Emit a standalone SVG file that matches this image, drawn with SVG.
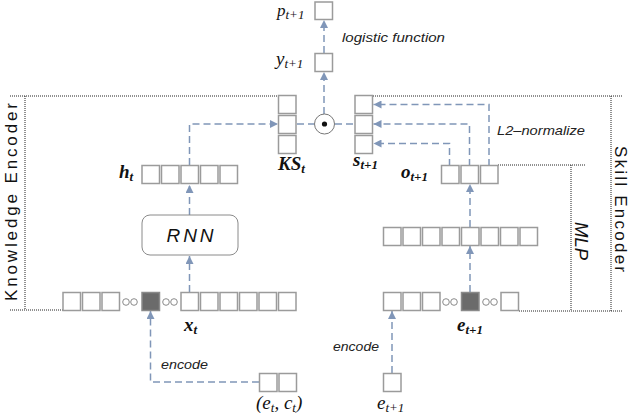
<svg xmlns="http://www.w3.org/2000/svg" width="640" height="415" viewBox="0 0 640 415">
<style>
.b{fill:#fff;stroke:#9b9b9b;stroke-width:1.5}
.f{fill:#6b6b6b;stroke:#8a8a8a;stroke-width:1.5}
.c{fill:#fff;stroke:#8a8a8a;stroke-width:1}
.dot{fill:none;stroke:#222;stroke-width:1;stroke-dasharray:1 1}
.ar{fill:none;stroke:#8096b8;stroke-width:1.5;stroke-dasharray:7 4}
.m{font-family:"Liberation Serif",serif;font-style:italic;font-size:19px;fill:#111}
.mb{font-family:"Liberation Serif",serif;font-style:italic;font-weight:bold;font-size:19px;fill:#111}
.s{font-size:13px}
.lab{font-family:"Liberation Sans",sans-serif;font-style:italic;font-size:13px;fill:#222}
.rnn{font-family:"Liberation Sans",sans-serif;font-style:italic;font-size:19px;fill:#111}
.big{font-family:"Liberation Sans",sans-serif;font-size:17px;fill:#111}
</style>
<defs>
<marker id="ah" markerUnits="userSpaceOnUse" markerWidth="10" markerHeight="8" refX="8" refY="4" orient="auto">
<path d="M0,0 L8,4 L0,8 Z" fill="#8096b8"/>
</marker>
</defs>

<g id="frames">
<line class="dot" x1="10" y1="96" x2="278" y2="96"/>
<line class="dot" x1="25" y1="96" x2="25" y2="310"/>
<line class="dot" x1="10" y1="310" x2="63" y2="310"/>
<line class="dot" x1="373" y1="96" x2="623" y2="96"/>
<line class="dot" x1="611" y1="96" x2="611" y2="311"/>
<line class="dot" x1="519" y1="311" x2="623" y2="311"/>
<line class="dot" x1="498" y1="165" x2="585" y2="165"/>
<line class="dot" x1="571" y1="165" x2="571" y2="311"/>
<text class="big" transform="translate(16.5,202) rotate(-90)" text-anchor="middle" textLength="198" lengthAdjust="spacing">Knowledge Encoder</text>
<text class="big" transform="translate(615,209) rotate(90)" text-anchor="middle" textLength="126" lengthAdjust="spacing">Skill Encoder</text>
<text class="rnn" transform="translate(575,241) rotate(90)" text-anchor="middle" textLength="38" lengthAdjust="spacingAndGlyphs">MLP</text>
</g>

<g id="connectors">
<polyline class="ar" points="324,114 324,72" marker-end="url(#ah)"/>
<polyline class="ar" points="324,53 324,20" marker-end="url(#ah)"/>
<polyline class="ar" points="189.5,165 189.5,124 278,124" marker-end="url(#ah)"/>
<line class="ar" x1="297" y1="124" x2="314" y2="124"/>
<line class="ar" x1="335" y1="124" x2="355" y2="124"/>
<polyline class="ar" points="189.5,292 189.5,256" marker-end="url(#ah)"/>
<polyline class="ar" points="189.5,215 189.5,185" marker-end="url(#ah)"/>
<polyline class="ar" points="489,166 489,104.5 373.5,104.5" marker-end="url(#ah)"/>
<polyline class="ar" points="469.5,166 469.5,124 373.5,124" marker-end="url(#ah)"/>
<polyline class="ar" points="449.5,166 449.5,143.5 373.5,143.5" marker-end="url(#ah)"/>
<polyline class="ar" points="470,292 470,246" marker-end="url(#ah)"/>
<polyline class="ar" points="470,227 470,184" marker-end="url(#ah)"/>
<polyline class="ar" points="259,382 150.5,382 150.5,311" marker-end="url(#ah)"/>
<polyline class="ar" points="392,373 392,311" marker-end="url(#ah)"/>
</g>

<g id="p">
<rect class="b" x="315" y="2" width="17.5" height="17.5"/>
<text class="m" x="277" y="15.5" style="font-size:17px">p<tspan class="s" dy="3">t+1</tspan></text>
</g>
<g id="y">
<rect class="b" x="315" y="53.5" width="17.5" height="18"/>
<text class="m" x="276" y="65">y<tspan class="s" dy="3">t+1</tspan></text>
<text class="lab" x="342" y="42" textLength="103" lengthAdjust="spacingAndGlyphs">logistic function</text>
</g>

<g id="dot">
<circle cx="324.5" cy="124" r="10" fill="#fff" stroke="#777" stroke-width="1"/>
<circle cx="324.5" cy="124" r="2.6" fill="#111"/>
</g>

<g id="KS">
<rect class="b" x="278.5" y="95.5" width="17.5" height="18"/>
<rect class="b" x="278.5" y="115.5" width="17.5" height="18"/>
<rect class="b" x="278.5" y="135.5" width="17.5" height="18"/>
<text class="mb" x="278" y="170">KS<tspan class="s" dy="3">t</tspan></text>
</g>

<g id="s">
<rect class="b" x="355" y="95.5" width="17.5" height="18"/>
<rect class="b" x="355" y="115.5" width="17.5" height="18"/>
<rect class="b" x="355" y="135.5" width="17.5" height="18"/>
<text class="mb" x="353" y="166">s<tspan class="s" dy="3">t+1</tspan></text>
</g>

<g id="h">
<rect class="b" x="142" y="165.5" width="17.5" height="18"/>
<rect class="b" x="161.5" y="165.5" width="17.5" height="18"/>
<rect class="b" x="181" y="165.5" width="17.5" height="18"/>
<rect class="b" x="200.5" y="165.5" width="17.5" height="18"/>
<rect class="b" x="220" y="165.5" width="17.5" height="18"/>
<text class="mb" x="119" y="178">h<tspan class="s" dy="3">t</tspan></text>
</g>

<g id="rnn">
<rect x="142" y="215" width="96" height="40" rx="8" fill="#fff" stroke="#8a8a8a" stroke-width="1"/>
<text class="rnn" x="190" y="242" text-anchor="middle" textLength="47" lengthAdjust="spacing">RNN</text>
</g>

<g id="x">
<rect class="b" x="63" y="292.5" width="17.5" height="18"/>
<rect class="b" x="82.5" y="292.5" width="17.5" height="18"/>
<rect class="b" x="102" y="292.5" width="17.5" height="18"/>
<circle class="c" cx="126" cy="302" r="3.3"/>
<circle class="c" cx="134" cy="302" r="3.3"/>
<rect class="f" x="142" y="292.5" width="17.5" height="18"/>
<circle class="c" cx="166" cy="302" r="3.3"/>
<circle class="c" cx="174" cy="302" r="3.3"/>
<rect class="b" x="181" y="292.5" width="17.5" height="18"/>
<rect class="b" x="200.5" y="292.5" width="17.5" height="18"/>
<rect class="b" x="220" y="292.5" width="17.5" height="18"/>
<rect class="b" x="239.5" y="292.5" width="17.5" height="18"/>
<rect class="b" x="259" y="292.5" width="17.5" height="18"/>
<rect class="b" x="278.5" y="292.5" width="17.5" height="18"/>
<text class="mb" x="184" y="331">x<tspan class="s" dy="3">t</tspan></text>
</g>

<g id="ec">
<rect class="b" x="259.5" y="373.5" width="17.5" height="18"/>
<rect class="b" x="279" y="373.5" width="17.5" height="18"/>
<text class="m" x="256" y="409">(e<tspan class="s" dy="3">t</tspan><tspan dy="-3">, c</tspan><tspan class="s" dy="3">t</tspan><tspan dy="-3">)</tspan></text>
<text class="lab" x="161" y="369" textLength="47" lengthAdjust="spacingAndGlyphs">encode</text>
</g>

<g id="o">
<rect class="b" x="441.5" y="165.5" width="17.5" height="18"/>
<rect class="b" x="461" y="165.5" width="17.5" height="18"/>
<rect class="b" x="480.5" y="165.5" width="17.5" height="18"/>
<text class="mb" x="401" y="178">o<tspan class="s" dy="3">t+1</tspan></text>
<text class="lab" x="497" y="135" textLength="88" lengthAdjust="spacingAndGlyphs">L2–normalize</text>
</g>

<g id="mlp">
<rect class="b" x="383.5" y="227.5" width="17.5" height="18"/>
<rect class="b" x="403" y="227.5" width="17.5" height="18"/>
<rect class="b" x="422.5" y="227.5" width="17.5" height="18"/>
<rect class="b" x="442" y="227.5" width="17.5" height="18"/>
<rect class="b" x="461.5" y="227.5" width="17.5" height="18"/>
<rect class="b" x="481" y="227.5" width="17.5" height="18"/>
<rect class="b" x="500.5" y="227.5" width="17.5" height="18"/>
<rect class="b" x="520" y="227.5" width="17.5" height="18"/>
</g>

<g id="e">
<rect class="b" x="383.5" y="292.5" width="17.5" height="18"/>
<rect class="b" x="403" y="292.5" width="17.5" height="18"/>
<rect class="b" x="422.5" y="292.5" width="17.5" height="18"/>
<circle class="c" cx="446" cy="302" r="3.3"/>
<circle class="c" cx="454" cy="302" r="3.3"/>
<rect class="f" x="461.5" y="292.5" width="17.5" height="18"/>
<circle class="c" cx="486" cy="302" r="3.3"/>
<circle class="c" cx="494" cy="302" r="3.3"/>
<rect class="b" x="501" y="292.5" width="17.5" height="18"/>
<text class="mb" x="457" y="331">e<tspan class="s" dy="3">t+1</tspan></text>
</g>

<g id="enext">
<rect class="b" x="383.5" y="373.5" width="17.5" height="18"/>
<text class="m" x="377" y="409">e<tspan class="s" dy="3">t+1</tspan></text>
<text class="lab" x="333" y="351" textLength="46" lengthAdjust="spacingAndGlyphs">encode</text>
</g>
</svg>
